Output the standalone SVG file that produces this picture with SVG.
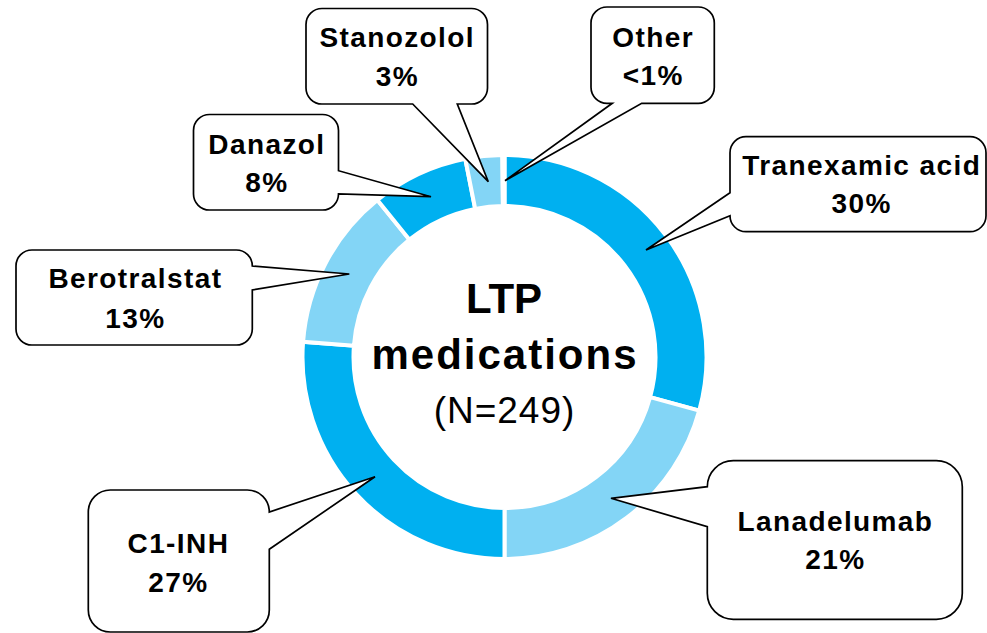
<svg xmlns="http://www.w3.org/2000/svg" width="987" height="633" viewBox="0 0 987 633">
<style>
.seg{stroke:#fff;stroke-width:4;stroke-linejoin:miter}
.dark{fill:#00B0F0}
.light{fill:#83D5F6}
.callout{fill:#fff;stroke:#000;stroke-width:1.7;stroke-linejoin:miter}
.lbl{font-family:"Liberation Sans",Arial,sans-serif;font-weight:bold;font-size:28px;letter-spacing:1.4px;text-anchor:middle;fill:#000}
.title{font-family:"Liberation Sans",Arial,sans-serif;font-weight:bold;font-size:42px;text-anchor:middle;fill:#000}
.sub{font-family:"Liberation Sans",Arial,sans-serif;font-size:37px;letter-spacing:1px;text-anchor:middle;fill:#000}
</style>
<rect width="987" height="633" fill="#fff"/>
<g id="donut">
<path id="seg-tranexamic" class="seg dark" d="M504.5,155 A202,202 0 0 1 699.25,410.65 L650.08,397.11 A151,151 0 0 0 504.5,206 Z"/>
<path id="seg-lanadelumab" class="seg light" d="M699.25,410.65 A202,202 0 0 1 504.5,559 L504.5,508 A151,151 0 0 0 650.08,397.11 Z"/>
<path id="seg-c1inh" class="seg dark" d="M504.5,559 A202,202 0 0 1 303.07,341.85 L353.92,345.68 A151,151 0 0 0 504.5,508 Z"/>
<path id="seg-berotralstat" class="seg light" d="M303.07,341.85 A202,202 0 0 1 377.38,200.03 L409.48,239.66 A151,151 0 0 0 353.92,345.68 Z"/>
<path id="seg-danazol" class="seg dark" d="M377.38,200.03 A202,202 0 0 1 465.27,158.84 L475.18,208.87 A151,151 0 0 0 409.48,239.66 Z"/>
<path id="seg-stanozolol" class="seg light" d="M465.27,158.84 A202,202 0 0 1 502.38,155.01 L502.92,206 A151,151 0 0 0 475.18,208.87 Z"/>
<path id="seg-other" class="seg light" d="M502.38,155.01 A202,202 0 0 1 504.5,155 L504.5,206 A151,151 0 0 0 502.92,206 Z"/>
</g>
<g id="center-label">
<text class="title" x="504" y="312.7">LTP</text>
<text class="title" x="505" y="369.3" letter-spacing="2">medications</text>
<text class="sub" x="504.5" y="423.3">(N=249)</text>
</g>
<g id="connectors"></g>
<g id="stanozolol">
<path class="callout" d="M322,8.5 H471.5 A16,16 0 0 1 487.5,24.5 V88 A16,16 0 0 1 471.5,104 H457.3 L488.3,181.7 L412.7,104 H322 A16,16 0 0 1 306,88 V24.5 A16,16 0 0 1 322,8.5 Z"/>
<text class="lbl" x="397.2" y="46.7">Stanozolol</text>
<text class="lbl" x="397.4" y="86">3%</text>
</g>
<g id="other">
<path class="callout" d="M607,7 H698.3 A16,16 0 0 1 714.3,23 V87.3 A16,16 0 0 1 698.3,103.3 H641.7 L505,180.7 L612.3,103.3 H607 A16,16 0 0 1 591,87.3 V23 A16,16 0 0 1 607,7 Z"/>
<text class="lbl" x="653.2" y="46.7">Other</text>
<text class="lbl" x="653.2" y="85">&lt;1%</text>
</g>
<g id="danazol">
<path class="callout" d="M209.5,114.5 H322.5 A16,16 0 0 1 338.5,130.5 V170.7 L431,196.7 L338.5,194 A16,16 0 0 1 322.5,210 H209.5 A16,16 0 0 1 193.5,194 V130.5 A16,16 0 0 1 209.5,114.5 Z"/>
<text class="lbl" x="266.9" y="154">Danazol</text>
<text class="lbl" x="266.9" y="191.7">8%</text>
</g>
<g id="berotralstat">
<path class="callout" d="M32,250 H236.3 A16,16 0 0 1 252.3,266 L349.3,274 L252.3,290 V329 A16,16 0 0 1 236.3,345 H32 A16,16 0 0 1 16,329 V266 A16,16 0 0 1 32,250 Z"/>
<text class="lbl" x="135.4" y="288.3">Berotralstat</text>
<text class="lbl" x="135.4" y="328.3">13%</text>
</g>
<g id="tranexamic">
<path class="callout" d="M746,136.7 H970 A16,16 0 0 1 986,152.7 V215.7 A16,16 0 0 1 970,231.7 H746 A16,16 0 0 1 730,215.7 L646,250 L730,192.7 V152.7 A16,16 0 0 1 746,136.7 Z"/>
<text class="lbl" x="861.7" y="175">Tranexamic acid</text>
<text class="lbl" x="861.7" y="213.3">30%</text>
</g>
<g id="c1inh">
<path class="callout" d="M110.3,490 H247.3 A22,22 0 0 1 269.3,512 L375,476.7 L269.3,549.3 V610 A22,22 0 0 1 247.3,632 H110.3 A22,22 0 0 1 88.3,610 V512 A22,22 0 0 1 110.3,490 Z"/>
<text class="lbl" x="178.4" y="552.7">C1-INH</text>
<text class="lbl" x="178.4" y="591.7">27%</text>
</g>
<g id="lanadelumab">
<path class="callout" d="M733.3,460.7 H936.3 A26,26 0 0 1 962.3,486.7 V593.3 A26,26 0 0 1 936.3,619.3 H733.3 A26,26 0 0 1 707.3,593.3 V526.7 L611,498.3 L707.3,486.7 A26,26 0 0 1 733.3,460.7 Z"/>
<text class="lbl" x="835.4" y="530.7">Lanadelumab</text>
<text class="lbl" x="835.4" y="569.3">21%</text>
</g>
</svg>
